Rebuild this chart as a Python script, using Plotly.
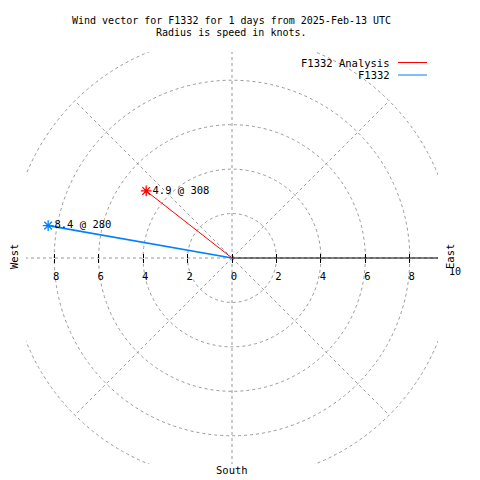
import numpy as np
import plotly.graph_objects as go

# ---- data ----
series_names = ["F1332 Analysis", "F1332"]
speeds_kt = [4.9, 8.4]
directions_deg = [308, 280]
series_colors = ["#ff0000", "#0080ff"]
series_widths = [1, 1.6]

grid_radii = [2, 4, 6, 8, 10]
spoke_angles = [0, 45, 90, 135, 180, 225, 270, 315]
tick_vals = [-8, -6, -4, -2, 0, 2, 4, 6, 8]
tick_text = ["8", "6", "4", "2", "0", "2", "4", "6", "8"]

title_lines = ["Wind vector for F1332 for 1 days from 2025-Feb-13 UTC",
               "Radius is speed in knots."]

# ---- layout geometry (page body has an 8px margin) ----
OFF = 8
W, H = 472, 472
ML, MR, MT, MB = 26 - OFF, 42, 52 - OFF, 16
PW, PH = W - ML - MR, H - MT - MB
RMAX = 9.27
FONT = "DejaVu Sans Mono"
GRID = "#999999"
GRID_DASH = "3px,3px"


def px(x):
    return (x - OFF - ML) / PW


def py(y):
    return (H - MB - (y - OFF)) / PH


fig = go.Figure()

for name, s, d, c, w in zip(series_names, speeds_kt, directions_deg, series_colors, series_widths):
    th = np.deg2rad(d)
    xe, ye = s * np.sin(th), s * np.cos(th)
    fig.add_trace(go.Scatter(x=[0, xe], y=[0, ye], mode="lines",
                             line=dict(color=c, width=w), name=name,
                             showlegend=False, hoverinfo="skip"))
    fig.add_trace(go.Scatter(x=[xe], y=[ye], mode="markers",
                             marker=dict(symbol="asterisk", size=9,
                                         line=dict(color=c, width=1.3)),
                             showlegend=False, hoverinfo="skip", cliponaxis=False))
    fig.add_trace(go.Scatter(x=[xe], y=[ye], mode="text",
                             text=[f" {s} @ {d}"], textposition="middle right",
                             textfont=dict(family=FONT, size=10.5, color="black"),
                             showlegend=False, hoverinfo="skip", cliponaxis=False))

shapes = []
for r in grid_radii:
    shapes.append(dict(type="circle", xref="x", yref="y", x0=-r, x1=r, y0=-r, y1=r,
                       line=dict(color=GRID, width=1, dash=GRID_DASH), layer="below"))
for a in spoke_angles:
    t = np.deg2rad(a)
    shapes.append(dict(type="line", xref="x", yref="y", x0=0, y0=0,
                       x1=grid_radii[-1] * np.cos(t), y1=grid_radii[-1] * np.sin(t),
                       line=dict(color=GRID, width=1, dash=GRID_DASH), layer="below"))
# solid polar axis to the east
shapes.append(dict(type="line", xref="x", yref="y", x0=0, y0=0, x1=grid_radii[-1], y1=0,
                   line=dict(color="black", width=1), layer="below"))

# legend (gnuplot style: text then sample line)
annotations = []
for i, (name, c) in enumerate(zip(series_names, series_colors)):
    yy = 62.5 + 12.5 * i
    annotations.append(dict(xref="paper", yref="paper", x=px(392), y=py(yy), text=name,
                            showarrow=False, xanchor="right", yanchor="middle",
                            font=dict(family=FONT, size=10.5, color="black")))
    shapes.append(dict(type="line", xref="paper", yref="paper", x0=px(398), x1=px(427),
                       y0=py(yy), y1=py(yy), line=dict(color=c, width=1)))

for i, line in enumerate(title_lines):
    annotations.append(dict(xref="paper", yref="paper", x=px(231), y=py(20 + 13 * i),
                            text=line, showarrow=False, xanchor="center", yanchor="middle",
                            font=dict(family=FONT, size=10, color="black")))

annotations += [
    dict(xref="paper", yref="paper", x=px(455), y=py(271), text="10", showarrow=False,
         xanchor="center", yanchor="middle", font=dict(family=FONT, size=10, color="black")),
    dict(xref="paper", yref="paper", x=px(14), y=py(257), text="West", textangle=-90,
         showarrow=False, xanchor="center", yanchor="middle",
         font=dict(family=FONT, size=10.5, color="black")),
    dict(xref="paper", yref="paper", x=px(450), y=py(257), text="East", textangle=-90,
         showarrow=False, xanchor="center", yanchor="middle",
         font=dict(family=FONT, size=10.5, color="black")),
    dict(xref="paper", yref="paper", x=px(232), y=py(470), text="South",
         showarrow=False, xanchor="center", yanchor="middle",
         font=dict(family=FONT, size=10.5, color="black")),
]

fig.update_layout(
    width=W, height=H, autosize=False,
    margin=dict(l=ML, r=MR, t=MT, b=MB, pad=0),
    paper_bgcolor="white", plot_bgcolor="white",
    showlegend=False,
    shapes=shapes, annotations=annotations,
    xaxis=dict(range=[-RMAX, RMAX], anchor="free", position=0.5,
               showgrid=False, zeroline=False, showline=False,
               tickmode="array", tickvals=tick_vals, ticktext=tick_text,
               ticks="outside", ticklen=4, tickcolor="black", tickwidth=1,
               ticklabelshift=2, ticklabelstandoff=4,
               tickfont=dict(family=FONT, size=10.5, color="black")),
    xaxis2=dict(range=[-RMAX, RMAX], overlaying="x", anchor="free", position=0.5,
                showgrid=False, zeroline=False, showline=False,
                tickmode="array", tickvals=tick_vals, showticklabels=False,
                ticks="inside", ticklen=4, tickcolor="black", tickwidth=1),
    yaxis=dict(range=[-RMAX, RMAX], showgrid=False, zeroline=False, showline=False,
               showticklabels=False, ticks=""),
)
# dummy trace to activate xaxis2
fig.add_trace(go.Scatter(x=[None], y=[None], xaxis="x2", showlegend=False, hoverinfo="skip"))

fig.write_html("out.html")
